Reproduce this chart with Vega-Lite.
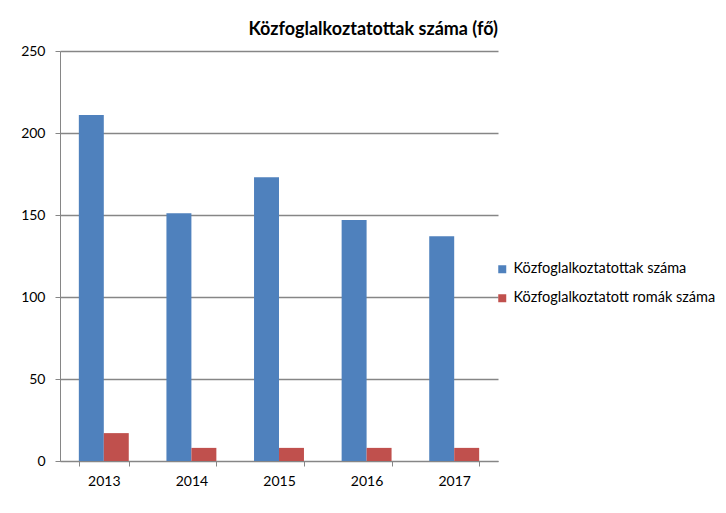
{
  "$schema": "https://vega.github.io/schema/vega-lite/v6.json",
  "autosize": "none",
  "width": 438,
  "height": 410,
  "padding": {"left": 60, "top": 51, "right": 228, "bottom": 52},
  "background": "white",
  "title": {
    "text": "Közfoglalkoztatottak száma (fő)",
    "anchor": "end",
    "frame": "group",
    "font": "Lato",
    "fontSize": 18,
    "fontWeight": "bold",
    "color": "#000000",
    "offset": 5
  },
  "data": {
    "values": [
      {"year": "2013", "series": "Közfoglalkoztatottak száma", "value": 211},
      {"year": "2014", "series": "Közfoglalkoztatottak száma", "value": 151},
      {"year": "2015", "series": "Közfoglalkoztatottak száma", "value": 173},
      {"year": "2016", "series": "Közfoglalkoztatottak száma", "value": 147},
      {"year": "2017", "series": "Közfoglalkoztatottak száma", "value": 137},
      {"year": "2013", "series": "Közfoglalkoztatott romák száma", "value": 17},
      {"year": "2014", "series": "Közfoglalkoztatott romák száma", "value": 8},
      {"year": "2015", "series": "Közfoglalkoztatott romák száma", "value": 8},
      {"year": "2016", "series": "Közfoglalkoztatott romák száma", "value": 8},
      {"year": "2017", "series": "Közfoglalkoztatott romák száma", "value": 8}
    ]
  },
  "mark": {"type": "bar"},
  "encoding": {
    "x": {
      "field": "year",
      "type": "nominal",
      "scale": {"paddingInner": 0.43, "paddingOuter": 0.215},
      "axis": {
        "title": null,
        "labelAngle": 0,
        "tickBand": "extent",
        "domainColor": "#868686",
        "tickColor": "#868686",
        "tickSize": 5,
        "labelFont": "Lato",
        "labelFontSize": 14,
        "labelColor": "#000000",
        "labelPadding": 8,
        "grid": false
      }
    },
    "xOffset": {
      "field": "series",
      "type": "nominal",
      "sort": ["Közfoglalkoztatottak száma", "Közfoglalkoztatott romák száma"],
      "scale": {"paddingInner": 0, "paddingOuter": 0}
    },
    "y": {
      "field": "value",
      "type": "quantitative",
      "scale": {"domain": [0, 250], "nice": false},
      "axis": {
        "title": null,
        "values": [0, 50, 100, 150, 200, 250],
        "grid": true,
        "gridColor": "#868686",
        "gridWidth": 1.5,
        "domainColor": "#868686",
        "tickColor": "#868686",
        "tickSize": 5,
        "labelFont": "Lato",
        "labelFontSize": 14,
        "labelColor": "#000000",
        "labelPadding": 10
      }
    },
    "color": {
      "field": "series",
      "type": "nominal",
      "sort": ["Közfoglalkoztatottak száma", "Közfoglalkoztatott romák száma"],
      "scale": {"range": ["#4F81BD", "#C0504D"]},
      "legend": {
        "title": null,
        "orient": "none",
        "legendX": 435,
        "legendY": 211,
        "symbolType": "square",
        "symbolSize": 64,
        "symbolStrokeWidth": 0,
        "labelFont": "Lato",
        "labelFontSize": 14.5,
        "labelLimit": 400,
        "labelColor": "#000000",
        "labelOffset": 4,
        "rowPadding": 14
      }
    }
  },
  "config": {"view": {"stroke": null}}
}
